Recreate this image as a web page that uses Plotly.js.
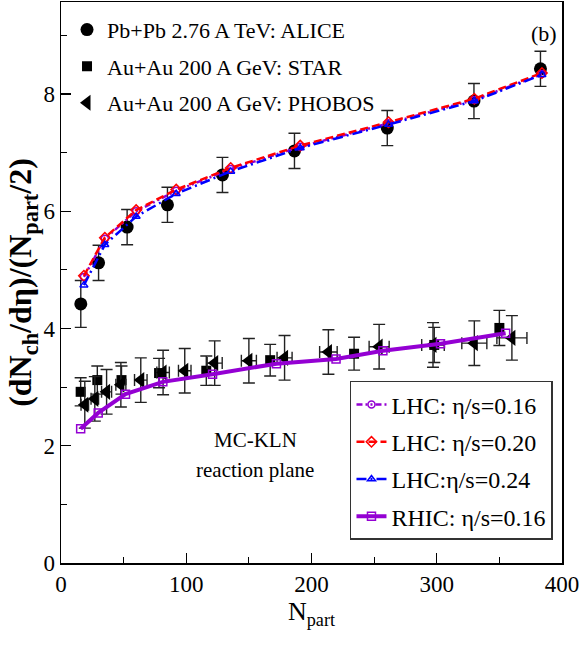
<!DOCTYPE html>
<html><head><meta charset="utf-8">
<script src="https://cdn.plot.ly/plotly-3.0.1.min.js"></script>
<style>body{margin:0;padding:0;background:#fff}#chart{width:582px;height:645px}</style>
</head><body><div id="chart"></div>
<script>
// ALICE Pb+Pb 2.76 A TeV
const aliceNpart = [15.8, 30.0, 52.8, 85.0, 128.9, 186.4, 260.5, 329.7, 382.8];
const aliceY     = [4.42, 5.12, 5.73, 6.11, 6.62, 7.03, 7.42, 7.88, 8.43];
const aliceErr   = [0.40, 0.30, 0.30, 0.30, 0.30, 0.30, 0.30, 0.30, 0.30];
// STAR Au+Au 200 A GeV
const starNpart = [15.7, 29.0, 48.3, 78.3, 116, 167, 234, 298, 350];
const starY     = [2.92, 3.12, 3.12, 3.24, 3.28, 3.46, 3.57, 3.72, 4.01];
const starErr   = [0.24, 0.24, 0.24, 0.25, 0.25, 0.27, 0.28, 0.30, 0.30];
// PHOBOS Au+Au 200 A GeV
const phobosNpart = [19, 27, 36.4, 47.8, 63.7, 81.5, 98.8, 122.7, 150, 178.5, 213.5, 254, 297, 330, 360];
const phobosY     = [2.70, 2.80, 2.92, 3.04, 3.12, 3.25, 3.28, 3.41, 3.45, 3.50, 3.60, 3.69, 3.72, 3.75, 3.84];
const phobosErrY  = [0.40, 0.38, 0.38, 0.38, 0.38, 0.38, 0.38, 0.38, 0.38, 0.38, 0.38, 0.38, 0.38, 0.38, 0.38];
const phobosErrX  = [3, 3, 4, 4, 5, 5, 5, 6, 6, 6, 7, 8, 9, 10, 12];
// MC-KLN hydro, LHC
const lhcNpart = [18.3, 35, 60, 92, 135.5, 191, 261.5, 330, 384];
const lhc016   = [4.88, 5.53, 6.00, 6.35, 6.72, 7.10, 7.50, 7.90, 8.34];
const lhc020   = [4.90, 5.55, 6.02, 6.37, 6.74, 7.12, 7.52, 7.92, 8.36];
const lhc024   = [4.74, 5.43, 5.91, 6.30, 6.68, 7.08, 7.48, 7.88, 8.33];
// MC-KLN hydro, RHIC
const rhicNpart = [15.7, 29.7, 51.5, 81.3, 121, 172, 219.6, 257, 303, 355];
const rhic016   = [2.29, 2.56, 2.88, 3.09, 3.22, 3.40, 3.48, 3.62, 3.74, 3.92];

const names = {
  alice: 'Pb+Pb 2.76 A TeV: ALICE',
  star: 'Au+Au 200 A GeV: STAR',
  phobos: 'Au+Au 200 A GeV: PHOBOS',
  l16: 'LHC: η/s=0.16',
  l20: 'LHC: η/s=0.20',
  l24: 'LHC:η/s=0.24',
  r16: 'RHIC: η/s=0.16'
};

const FONT = 'Liberation Serif, DejaVu Serif, serif';
const PURPLE = '#9400d3';
const ebar = {type:'data', visible:true, color:'#222', thickness:1.4, width:6};

const traces = [
  {x: aliceNpart, y: aliceY, name: names.alice, legend:'legend', legendgroup:'a', mode:'markers', type:'scatter',
   marker:{symbol:'circle', size:13, color:'black'}, error_y:Object.assign({array: aliceErr}, ebar)},
  {x: starNpart, y: starY, name: names.star, legend:'legend', legendgroup:'b', mode:'markers', type:'scatter',
   marker:{symbol:'square', size:10, color:'black'}, error_y:Object.assign({array: starErr}, ebar)},
  {x: phobosNpart, y: phobosY, name: names.phobos, legend:'legend', legendgroup:'c', mode:'markers', type:'scatter',
   marker:{symbol:'triangle-left', size:14, color:'black'},
   error_y:Object.assign({array: phobosErrY}, ebar), error_x:Object.assign({array: phobosErrX}, ebar)},
  {x: lhcNpart, y: lhc016, name: names.l16, legend:'legend2', legendgroup:'d', mode:'lines+markers', type:'scatter',
   line:{color:PURPLE, width:2.5, dash:'6px,3px,2px,3px,2px,3px'}, marker:{symbol:'circle-open', size:7, color:PURPLE, line:{width:1.5}}},
  {x: lhcNpart, y: lhc020, name: names.l20, legend:'legend2', legendgroup:'e', mode:'lines+markers', type:'scatter',
   line:{color:'#ff0000', width:2.5, dash:'8px,4px'}, marker:{symbol:'diamond-open', size:8, color:'#ff0000', line:{width:1.5}}},
  {x: lhcNpart, y: lhc024, name: names.l24, legend:'legend2', legendgroup:'f', mode:'lines+markers', type:'scatter',
   line:{color:'#0000ff', width:2.5, dash:'10px,4px,2px,4px'}, marker:{symbol:'triangle-up-open', size:7, color:'#0000ff', line:{width:1.5}}},
  {x: rhicNpart, y: rhic016, name: names.r16, legend:'legend2', legendgroup:'g', mode:'lines+markers', type:'scatter',
   line:{color:PURPLE, width:4}, marker:{symbol:'square-open', size:8, color:PURPLE, line:{width:1.5}}}
];

const layout = {
  width:582, height:645,
  margin:{l:61, r:20, t:2, b:82},
  paper_bgcolor:'#fff', plot_bgcolor:'#fff',
  font:{family:FONT, color:'black', size:22},
  showlegend:true,
  xaxis:{range:[0,400], tickvals:[0,100,200,300,400], ticks:'inside', ticklen:10, tickwidth:1.2, tickcolor:'black',
    minor:{ticks:'inside', dtick:50, ticklen:6, tickwidth:1.2, tickcolor:'black'},
    showline:true, linecolor:'black', linewidth:1.5, mirror:true, showgrid:false, zeroline:false,
    tickfont:{family:FONT, size:23},
    title:{text:'N<sub>part</sub>', font:{family:FONT, size:26}, standoff:0}},
  yaxis:{range:[0,9.57], tickvals:[0,2,4,6,8], ticks:'inside', ticklen:10, tickwidth:1.2, tickcolor:'black',
    minor:{ticks:'inside', dtick:1, ticklen:6, tickwidth:1.2, tickcolor:'black'},
    showline:true, linecolor:'black', linewidth:1.5, mirror:true, showgrid:false, zeroline:false,
    tickfont:{family:FONT, size:23},
    title:{text:'<b>(dN<sub>ch</sub>/dη)/(N<sub>part</sub>/2)</b>', font:{family:FONT, size:32}, standoff:2}},
  legend:{x:0.012, y:0.988, xanchor:'left', yanchor:'top', bgcolor:'rgba(255,255,255,0)', borderwidth:0,
    font:{family:FONT, size:22}, tracegroupgap:5, traceorder:'grouped', itemwidth:30},
  legend2:{x:0.982, y:0.041, xanchor:'right', yanchor:'bottom', bgcolor:'#fff', bordercolor:'#333', borderwidth:1.5,
    font:{family:FONT, size:24}, tracegroupgap:3, traceorder:'grouped'},
  annotations:[
    {x:386, y:9.03, xref:'x', yref:'y', text:'(b)', showarrow:false, font:{family:FONT, size:22}},
    {x:155, y:2.1, xref:'x', yref:'y', text:'MC-KLN', showarrow:false, font:{family:FONT, size:21}},
    {x:155, y:1.59, xref:'x', yref:'y', text:'reaction plane', showarrow:false, font:{family:FONT, size:21}}
  ]
};

Plotly.newPlot('chart', traces, layout, {displayModeBar:false, staticPlot:true});
</script></body></html>
